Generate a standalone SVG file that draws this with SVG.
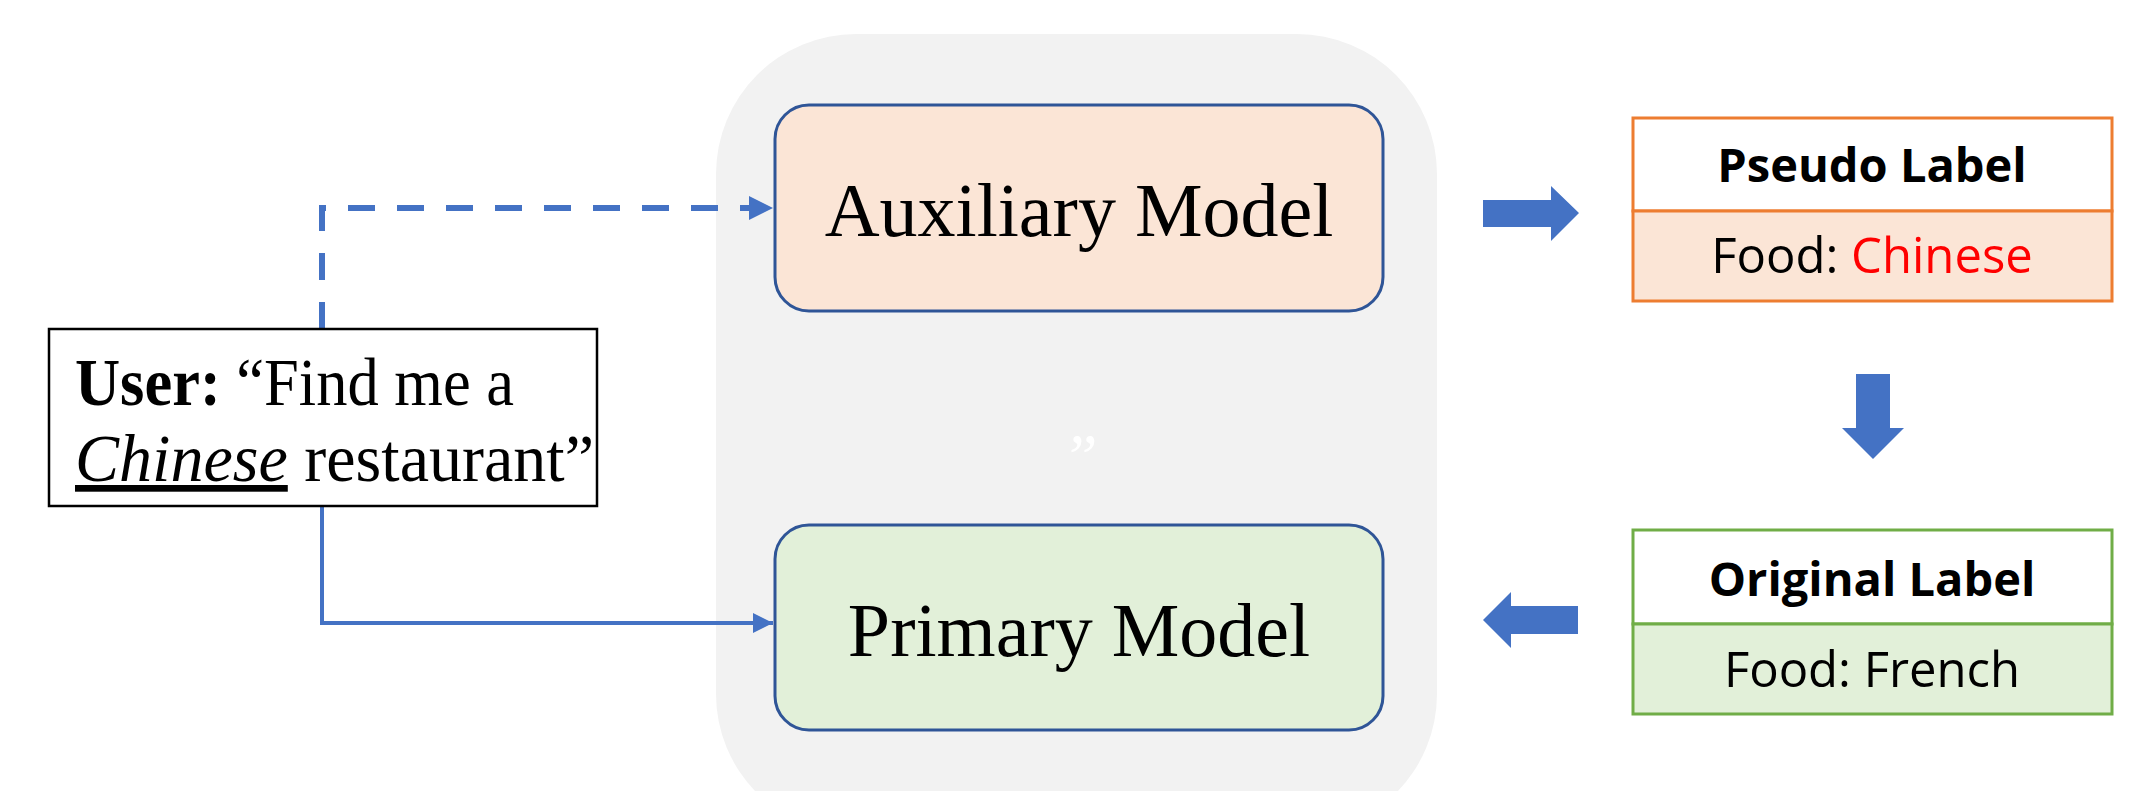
<svg xmlns="http://www.w3.org/2000/svg" width="2132" height="791" viewBox="0 0 2132 791">
<defs>
<style>
.serif{font-family:"Liberation Serif","Times New Roman",serif;fill:#000}
.sans{font-family:"Open Sans","Noto Sans",sans-serif;fill:#000}
.model{stroke:#2F5597;stroke-width:3}
.conn{fill:none;stroke:#4472C4}
.blk{fill:#4472C4}
</style>
<marker id="ah" viewBox="0 0 10 10" refX="10" refY="5" markerWidth="4" markerHeight="4" markerUnits="strokeWidth" orient="auto">
<path d="M0,0 L10,5 L0,10 z" fill="#4472C4"/>
</marker>
<marker id="ah2" viewBox="0 0 10 10" refX="10" refY="5" markerWidth="5" markerHeight="5" markerUnits="strokeWidth" orient="auto">
<path d="M0,0 L10,5 L0,10 z" fill="#4472C4"/>
</marker>
</defs>
<rect width="2132" height="791" fill="#fff"/>
<g id="background">
<rect x="716" y="34" width="721" height="800" rx="140" ry="140" fill="#F2F2F2"/>
<text x="1062" y="478" font-family="Liberation Serif, serif" font-style="italic" font-size="64" fill="#fff">”</text>
</g>
<g id="connectors">
<path class="conn" d="M322,329 V208 H773" stroke-width="6" stroke-dasharray="27,22" marker-end="url(#ah)"/>
<path class="conn" d="M322,506 V623 H773" stroke-width="4" marker-end="url(#ah2)"/>
<path id="arrow-right" class="blk" d="M1483,200 H1551 V186 L1579,213 L1551,241 V227 H1483 z"/>
<path id="arrow-down" class="blk" d="M1856,374 H1890 V428 H1904 L1873,459 L1842,428 H1856 z"/>
<path id="arrow-left" class="blk" d="M1578,606 H1511 V592 L1483,620 L1511,648 V634 H1578 z"/>
</g>
<g id="user">
<rect x="49" y="329" width="548" height="177" fill="#fff" stroke="#000" stroke-width="2.5"/>
<text x="75" y="405" class="serif" font-size="67" textLength="439" lengthAdjust="spacingAndGlyphs"><tspan font-weight="bold">User:</tspan> “Find me a</text>
<text x="75" y="481" class="serif" font-size="67" textLength="519" lengthAdjust="spacingAndGlyphs"><tspan font-style="italic" text-decoration="underline">Chinese</tspan> restaurant”</text>
</g>
<g id="auxiliary">
<rect class="model" x="775" y="105" width="608" height="206" rx="34" ry="34" fill="#FBE5D6"/>
<text x="1079" y="236" class="serif" font-size="76" text-anchor="middle">Auxiliary Model</text>
</g>
<g id="primary">
<rect class="model" x="775" y="525" width="608" height="205" rx="34" ry="34" fill="#E2F0D9"/>
<text x="1079" y="656" class="serif" font-size="76" text-anchor="middle">Primary Model</text>
</g>
<g id="pseudo-label">
<rect x="1633" y="118" width="479" height="93" fill="#fff" stroke="#ED7D31" stroke-width="3"/>
<rect x="1633" y="211" width="479" height="90" fill="#FBE5D6" stroke="#ED7D31" stroke-width="3"/>
<text x="1872" y="182" class="sans" font-size="47" font-weight="bold" text-anchor="middle">Pseudo Label</text>
<text x="1872" y="273" class="sans" font-size="49" text-anchor="middle">Food: <tspan fill="#FF0000">Chinese</tspan></text>
</g>
<g id="original-label">
<rect x="1633" y="530" width="479" height="94" fill="#fff" stroke="#70AD47" stroke-width="3"/>
<rect x="1633" y="624" width="479" height="90" fill="#E2F0D9" stroke="#70AD47" stroke-width="3"/>
<text x="1872" y="596" class="sans" font-size="47" font-weight="bold" text-anchor="middle">Original Label</text>
<text x="1872" y="687" class="sans" font-size="49" text-anchor="middle">Food: French</text>
</g>
</svg>
